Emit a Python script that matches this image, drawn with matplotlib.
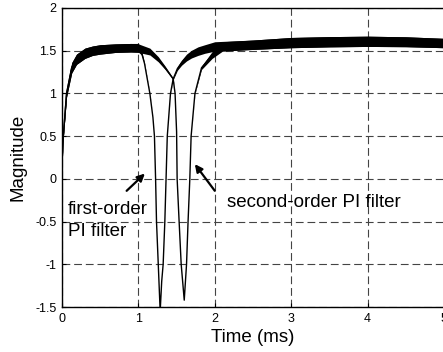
import matplotlib
matplotlib.use("Agg")
import matplotlib.pyplot as plt
import numpy as np

plt.rcParams['font.family'] = ['Liberation Sans', 'DejaVu Sans']

# ---- data ----
# first-order PI filter (time in ms, magnitude centre line)
t1 = [0.0, 0.017, 0.06, 0.127, 0.19, 0.3, 0.4, 0.5, 0.7, 0.9, 1.0, 1.04, 1.08, 1.12,
      1.15, 1.19, 1.21, 1.225, 1.237, 1.26, 1.285, 1.305, 1.324, 1.346, 1.362, 1.378,
      1.42, 1.455, 1.51, 1.565, 1.63, 1.695, 1.78, 1.87, 2.0, 2.5, 3.0, 3.5, 4.0, 4.5, 5.0]
m1 = [0.18, 0.5, 1.0, 1.3, 1.4, 1.47, 1.5, 1.515, 1.53, 1.535, 1.535, 1.48, 1.35, 1.15,
      1.0, 0.72, 0.5, 0.0, -0.5, -1.0, -1.55, -1.2, -1.0, -0.5, 0.0, 0.5,
      1.0, 1.17, 1.29, 1.36, 1.42, 1.46, 1.495, 1.52, 1.55, 1.57, 1.595, 1.605, 1.61, 1.605, 1.59]
# noise band half-width of the first-order trace
w1 = [0.01, 0.02, 0.04, 0.06, 0.06, 0.06, 0.055, 0.055, 0.05, 0.05, 0.05, 0.03, 0.01, 0.005,
      0.005, 0.0, 0.0, 0.0, 0.0, 0.0, 0.0, 0.0, 0.0, 0.0, 0.0, 0.0,
      0.005, 0.01, 0.02, 0.03, 0.04, 0.045, 0.05, 0.05, 0.055, 0.055, 0.06, 0.06, 0.06, 0.058, 0.055]

# second-order PI filter
t2 = [0.0, 0.017, 0.06, 0.127, 0.19, 0.3, 0.4, 0.5, 0.7, 0.9, 1.0, 1.15, 1.26, 1.35,
      1.455, 1.48, 1.50, 1.507, 1.533, 1.56, 1.60, 1.63, 1.65, 1.673, 1.69, 1.74,
      1.826, 1.965, 2.1, 2.5, 3.0, 3.5, 4.0, 4.5, 5.0]
m2 = [0.18, 0.5, 1.0, 1.3, 1.4, 1.47, 1.5, 1.515, 1.53, 1.535, 1.53, 1.49, 1.40, 1.30,
      1.17, 1.0, 0.55, 0.0, -0.5, -1.0, -1.42, -1.0, -0.5, 0.0, 0.5, 1.0,
      1.3, 1.45, 1.55, 1.57, 1.595, 1.605, 1.61, 1.605, 1.59]
w2 = [0.01, 0.02, 0.04, 0.06, 0.06, 0.06, 0.055, 0.055, 0.05, 0.05, 0.05, 0.04, 0.03, 0.02,
      0.01, 0.0, 0.0, 0.0, 0.0, 0.0, 0.0, 0.0, 0.0, 0.0, 0.0, 0.005,
      0.02, 0.04, 0.055, 0.055, 0.06, 0.06, 0.06, 0.058, 0.055]

xticks = [0, 1, 2, 3, 4, 5]
xticklabels = ['0', '1', '2', '3', '4', '5']
yticks = [-1.5, -1, -0.5, 0, 0.5, 1, 1.5, 2]
yticklabels = ['-1.5', '-1', '-0.5', '0', '0.5', '1', '1.5', '2']

# ---- figure ----
W, H = 443, 352
fig = plt.figure(figsize=(W / 100, H / 100), dpi=100)
ax = fig.add_axes([62 / W, (H - 307) / H, 382 / W, 299 / H])

for t, m, w in ((t1, m1, w1), (t2, m2, w2)):
    t = np.asarray(t); m = np.asarray(m); w = np.asarray(w)
    ax.fill_between(t, m - w, m + w, color='k', lw=0, zorder=3)
    ax.plot(t, m, color='k', lw=1.0, zorder=4)

ax.set_xlim(0, 5)
ax.set_ylim(-1.5, 2)
ax.set_xticks(xticks)
ax.set_xticklabels(xticklabels)
ax.set_yticks(yticks)
ax.set_yticklabels(yticklabels)
ax.tick_params(direction='in', length=3, width=0.8, labelsize=9, pad=4, colors='k')
ax.grid(True, color='#444444', lw=0.8, ls=(0, (7, 3.5)))
ax.set_axisbelow(True)
for s in ax.spines.values():
    s.set_linewidth(1.0)

ax.set_xlabel('Time (ms)', fontsize=13.5)
ax.xaxis.set_label_coords(0.5, -0.075)
ax.set_ylabel('Magnitude', fontsize=13.5)
ax.yaxis.set_label_coords(-0.092, 0.5)

ap = dict(arrowstyle='-|>', color='k', lw=1.6, mutation_scale=11, shrinkA=0, shrinkB=0)
ax.annotate('', xy=(1.085, 0.062), xytext=(0.846, -0.14), arrowprops=ap, zorder=5)
ax.annotate('', xy=(1.739, 0.172), xytext=(2.0, -0.14), arrowprops=ap, zorder=5)

ax.text(0.078, -0.363, 'first-order', fontsize=13.5, ha='left', va='center', zorder=6)
ax.text(0.078, -0.62, 'PI filter', fontsize=13.5, ha='left', va='center', zorder=6)
ax.text(2.157, -0.275, 'second-order PI filter', fontsize=13.5, ha='left', va='center', zorder=6)

fig.savefig('out.png', dpi=100)
